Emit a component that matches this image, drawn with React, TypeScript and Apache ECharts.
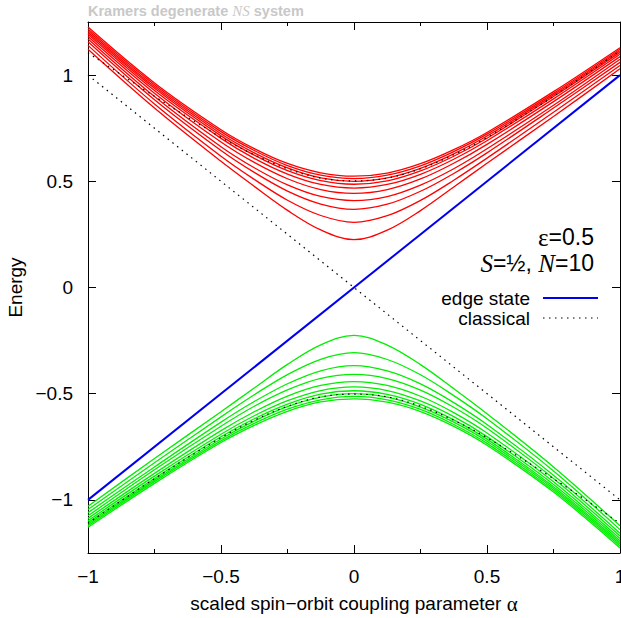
import React, { useEffect, useRef } from "react";
import * as echarts from "echarts";

const ALPHA = [-1, -0.75, -0.5, -0.375, -0.25, -0.125, 0, 0.125, 0.25, 0.375, 0.5, 0.75, 1];

const red1 = [1.122, 0.845, 0.594, 0.476, 0.363, 0.271, 0.225, 0.270, 0.362, 0.473, 0.585, 0.805, 1.030];
const red2 = [1.140, 0.864, 0.618, 0.509, 0.411, 0.339, 0.307, 0.338, 0.410, 0.505, 0.609, 0.825, 1.045];
const red3 = [1.157, 0.884, 0.645, 0.542, 0.454, 0.393, 0.368, 0.392, 0.453, 0.537, 0.634, 0.845, 1.060];
const red4 = [1.170, 0.899, 0.663, 0.564, 0.483, 0.4285, 0.409, 0.428, 0.482, 0.559, 0.653, 0.858, 1.075];
const red5 = [1.182, 0.915, 0.685, 0.589, 0.512, 0.461, 0.443, 0.461, 0.511, 0.585, 0.674, 0.875, 1.087];
const red6 = [1.192, 0.927, 0.702, 0.608, 0.534, 0.485, 0.468, 0.485, 0.533, 0.604, 0.691, 0.888, 1.098];
const red7 = [1.201, 0.938, 0.714, 0.623, 0.550, 0.503, 0.486, 0.502, 0.549, 0.618, 0.703, 0.899, 1.107];
const red8 = [1.209, 0.946, 0.724, 0.634, 0.563, 0.516, 0.500, 0.516, 0.561, 0.629, 0.713, 0.907, 1.115];
const red9 = [1.217, 0.955, 0.734, 0.645, 0.574, 0.529, 0.513, 0.529, 0.573, 0.640, 0.722, 0.914, 1.122];
const red10 = [1.226, 0.963, 0.743, 0.654, 0.584, 0.540, 0.524, 0.539, 0.583, 0.649, 0.730, 0.922, 1.129];

const green1 = [-1.030, -0.805, -0.585, -0.473, -0.362, -0.270, -0.225, -0.271, -0.363, -0.476, -0.594, -0.845, -1.122];
const green2 = [-1.045, -0.825, -0.609, -0.505, -0.410, -0.338, -0.307, -0.339, -0.411, -0.509, -0.618, -0.864, -1.140];
const green3 = [-1.060, -0.845, -0.634, -0.537, -0.453, -0.392, -0.368, -0.393, -0.454, -0.542, -0.645, -0.884, -1.157];
const green4 = [-1.075, -0.858, -0.653, -0.559, -0.482, -0.428, -0.409, -0.4285, -0.483, -0.564, -0.663, -0.899, -1.170];
const green5 = [-1.087, -0.875, -0.674, -0.585, -0.511, -0.461, -0.443, -0.461, -0.512, -0.589, -0.685, -0.915, -1.182];
const green6 = [-1.098, -0.888, -0.691, -0.604, -0.533, -0.485, -0.468, -0.485, -0.534, -0.608, -0.702, -0.927, -1.192];
const green7 = [-1.107, -0.899, -0.703, -0.618, -0.549, -0.502, -0.486, -0.503, -0.550, -0.623, -0.714, -0.938, -1.201];
const green8 = [-1.115, -0.907, -0.713, -0.629, -0.561, -0.516, -0.500, -0.516, -0.563, -0.634, -0.724, -0.946, -1.209];
const green9 = [-1.122, -0.914, -0.722, -0.640, -0.573, -0.529, -0.513, -0.529, -0.574, -0.645, -0.734, -0.955, -1.217];
const green10 = [-1.129, -0.922, -0.730, -0.649, -0.583, -0.539, -0.524, -0.540, -0.584, -0.654, -0.743, -0.963, -1.226];

const upperClassical = [1.105, 0.90, 0.707, 0.625, 0.559, 0.515, 0.502, 0.515, 0.559, 0.625, 0.707, 0.90, 1.115];
const lowerClassical = [-1.11, -0.90, -0.707, -0.625, -0.559, -0.515, -0.502, -0.515, -0.559, -0.625, -0.707, -0.90, -1.11];

const EDGE_X = [-1, 1];
const EDGE_Y = [-1, 1];
const CLASSICAL_X = [-1, 1];
const CLASSICAL_Y = [1, -1];

const RED_CURVES = [red1, red2, red3, red4, red5, red6, red7, red8, red9, red10];
const GREEN_CURVES = [green1, green2, green3, green4, green5, green6, green7, green8, green9, green10];

const SANS = "'Liberation Sans', Arial, sans-serif";
const SERIF = "'Liberation Serif', 'Times New Roman', serif";
const DOT = [1.5, 4.5];

const fmt = (v: number) => (v === 0 ? "0" : String(v).replace("-", "\u2212"));

export default function App() {
  const ref = useRef<HTMLDivElement>(null);
  useEffect(() => {
    if (!ref.current) return;
    const chart = echarts.init(ref.current, null, { renderer: "svg" });

    const curve = (vals: number[], color: string, width: number, type: any = "solid") => ({
      type: "line",
      data: ALPHA.map((a, i) => [a, vals[i]]),
      symbol: "none",
      smooth: 0.35,
      silent: true,
      lineStyle: { color, width, type },
    });

    const series: any[] = [];
    RED_CURVES.forEach((c) => series.push(curve(c, "#ff0000", 1.3)));
    GREEN_CURVES.forEach((c) => series.push(curve(c, "#00ee00", 1.3)));
    series.push(curve(upperClassical, "#000000", 1.2, DOT));
    series.push(curve(lowerClassical, "#000000", 1.2, DOT));
    series.push({
      type: "line",
      data: CLASSICAL_X.map((x, i) => [x, CLASSICAL_Y[i]]),
      symbol: "none",
      silent: true,
      lineStyle: { color: "#000000", width: 1.2, type: DOT },
    });
    series.push({
      type: "line",
      data: EDGE_X.map((x, i) => [x, EDGE_Y[i]]),
      symbol: "none",
      silent: true,
      lineStyle: { color: "#0000ee", width: 2 },
    });

    const axisLine = { show: true, onZero: false, lineStyle: { color: "#000", width: 1 } };
    const label = { color: "#000", fontFamily: SANS, fontSize: 19 };

    chart.setOption({
      animation: false,
      backgroundColor: "#fff",
      grid: { left: 88, right: 1, top: 22, bottom: 65, containLabel: false, outerBoundsMode: "none" },
      xAxis: [
        {
          type: "value",
          min: -1,
          max: 1,
          interval: 0.5,
          position: "bottom",
          axisLine,
          axisTick: { show: true, inside: true, length: 8, lineStyle: { color: "#000" } },
          minorTick: { show: true, splitNumber: 2, length: 4, lineStyle: { color: "#000" } },
          splitLine: { show: false },
          axisLabel: { ...label, margin: 14, formatter: fmt },
          name: "scaled spin\u2212orbit coupling parameter {g|\u03b1}",
          nameLocation: "middle",
          nameGap: 40,
          nameTextStyle: {
            color: "#000",
            fontFamily: SANS,
            fontSize: 19,
            rich: { g: { fontFamily: SERIF, fontSize: 21, color: "#000" } },
          },
        },
        {
          type: "value",
          min: -1,
          max: 1,
          interval: 0.5,
          position: "top",
          axisLine,
          axisTick: { show: true, inside: true, length: 8, lineStyle: { color: "#000" } },
          minorTick: { show: true, splitNumber: 2, length: 4, lineStyle: { color: "#000" } },
          splitLine: { show: false },
          axisLabel: { show: false },
        },
      ],
      yAxis: [
        {
          type: "value",
          min: -1.25,
          max: 1.25,
          splitNumber: 5,
          position: "left",
          axisLine,
          axisTick: { show: true, inside: true, length: 8, lineStyle: { color: "#000" } },
          splitLine: { show: false },
          axisLabel: { ...label, margin: 15, formatter: fmt, showMinLabel: false, showMaxLabel: false },
          name: "Energy",
          nameLocation: "middle",
          nameRotate: 90,
          nameGap: 61,
          nameTextStyle: { color: "#000", fontFamily: SANS, fontSize: 19 },
        },
        {
          type: "value",
          min: -1.25,
          max: 1.25,
          splitNumber: 5,
          position: "right",
          axisLine,
          axisTick: { show: true, inside: true, length: 8, lineStyle: { color: "#000" } },
          splitLine: { show: false },
          axisLabel: { show: false },
        },
      ],
      series,
      graphic: [
        {
          type: "text",
          x: 88,
          y: 11,
          style: {
            text: "{b|Kramers degenerate }{i|NS}{b| system}",
            align: "left",
            verticalAlign: "middle",
            textAlign: "left",
            textVerticalAlign: "middle",
            rich: {
              b: { fontFamily: SANS, fontWeight: "bold", fontSize: 14.5, fill: "#c8c8c8", color: "#c8c8c8" },
              i: { fontFamily: SERIF, fontStyle: "italic", fontSize: 15, fill: "#c8c8c8", color: "#c8c8c8" },
            },
          },
        },
        {
          type: "text",
          x: 594,
          y: 237,
          style: {
            text: "{e|\u03b5}{n|=0.5}",
            align: "right",
            verticalAlign: "middle",
            textAlign: "right",
            textVerticalAlign: "middle",
            rich: {
              e: { fontFamily: SERIF, fontSize: 25, fill: "#000", color: "#000" },
              n: { fontFamily: SANS, fontSize: 23, fill: "#000", color: "#000" },
            },
          },
        },
        {
          type: "text",
          x: 594,
          y: 263,
          style: {
            text: "{i|S}{n|=\u00bd, }{i|N}{n|=10}",
            align: "right",
            verticalAlign: "middle",
            textAlign: "right",
            textVerticalAlign: "middle",
            rich: {
              i: { fontFamily: SERIF, fontStyle: "italic", fontSize: 25, fill: "#000", color: "#000" },
              n: { fontFamily: SANS, fontSize: 23, fill: "#000", color: "#000" },
            },
          },
        },
        {
          type: "text",
          x: 530,
          y: 298,
          style: {
            text: "edge state",
            font: "19px " + SANS,
            fill: "#000",
            align: "right",
            verticalAlign: "middle",
            textAlign: "right",
            textVerticalAlign: "middle",
          },
        },
        {
          type: "line",
          shape: { x1: 543, y1: 298, x2: 598, y2: 298 },
          style: { stroke: "#0000ee", lineWidth: 2 },
        },
        {
          type: "text",
          x: 530,
          y: 318,
          style: {
            text: "classical",
            font: "19px " + SANS,
            fill: "#000",
            align: "right",
            verticalAlign: "middle",
            textAlign: "right",
            textVerticalAlign: "middle",
          },
        },
        {
          type: "line",
          shape: { x1: 543, y1: 318, x2: 598, y2: 318 },
          style: { stroke: "#000", lineWidth: 1.2, lineDash: DOT },
        },
      ],
    });
    return () => chart.dispose();
  }, []);
  return <div ref={ref} style={{ position: "fixed", left: 0, top: 0, width: 621, height: 618 }} />;
}
